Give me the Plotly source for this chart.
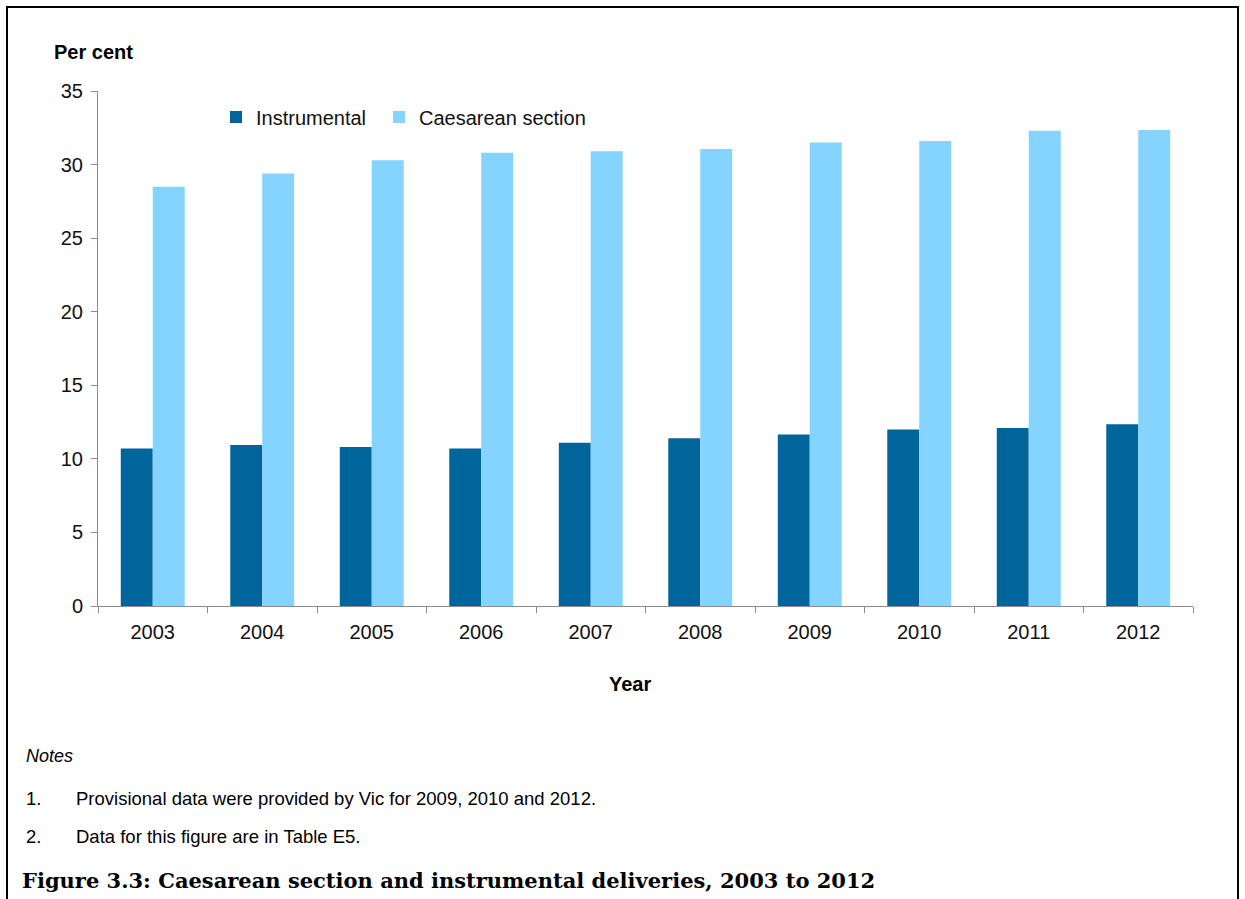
import plotly.graph_objects as go

years = ["2003", "2004", "2005", "2006", "2007", "2008", "2009", "2010", "2011", "2012"]
instrumental = [10.7, 10.95, 10.8, 10.7, 11.1, 11.4, 11.65, 12.0, 12.1, 12.35]
caesarean = [28.5, 29.4, 30.3, 30.8, 30.9, 31.05, 31.5, 31.6, 32.3, 32.35]
y_ticks = [0, 5, 10, 15, 20, 25, 30, 35]

W, H = 1245, 899
ML, MR, MT, MB = 98, 52, 91, 293
PW, PH = W - ML - MR, H - MT - MB


def px(x):
    return (x - ML) / PW


def py(y):
    return (H - MB - y) / PH


DARK = "#00659A"
LIGHT = "#85D3FF"
AXIS = "#8C8C8C"
TEXT = "#111111"
FONT = "Liberation Sans, Arial, sans-serif"

fig = go.Figure()
fig.add_trace(go.Bar(name="Instrumental", x=years, y=instrumental, legend="legend",
                     marker=dict(color=DARK, line=dict(width=0))))
fig.add_trace(go.Bar(name="Caesarean section", x=years, y=caesarean, legend="legend2",
                     marker=dict(color=LIGHT, line=dict(width=0))))

legend_common = dict(orientation="h", yanchor="middle", xanchor="left",
                     font=dict(family=FONT, size=20, color=TEXT),
                     bgcolor="rgba(0,0,0,0)", borderwidth=0)

fig.update_layout(
    width=W, height=H,
    margin=dict(l=ML, r=MR, t=MT, b=MB, pad=0),
    paper_bgcolor="white", plot_bgcolor="white",
    barmode="group", bargap=0.416, bargroupgap=0,
    font=dict(family=FONT, size=20, color=TEXT),
    showlegend=True,
    legend=dict(x=px(216), y=py(117), **legend_common),
    legend2=dict(x=px(379), y=py(117), **legend_common),
    xaxis=dict(type="category", showline=True, linecolor=AXIS, linewidth=1,
               ticks="outside", tickson="boundaries", ticklen=6, tickcolor=AXIS,
               ticklabelstandoff=8,
               tickfont=dict(family=FONT, size=20, color=TEXT),
               showgrid=False, zeroline=False, fixedrange=True),
    yaxis=dict(range=[0, 35], tickvals=y_ticks, showline=True, linecolor=AXIS, linewidth=1,
               ticks="outside", ticklen=6, tickcolor=AXIS, ticklabelstandoff=4,
               tickfont=dict(family=FONT, size=20, color=TEXT),
               showgrid=False, zeroline=False, fixedrange=True),
)

NOTE_SIZE = 18.5
annotations = [
    dict(text="<b>Per cent</b>", x=px(52), y=py(52), xanchor="left", yanchor="middle",
         font=dict(family=FONT, size=20, color="#000")),
    dict(text="<b>Year</b>", x=px(630), y=py(684), xanchor="center", yanchor="middle",
         font=dict(family=FONT, size=20, color="#000")),
    dict(text="<i>Notes</i>", x=px(24), y=py(756), xanchor="left", yanchor="middle",
         font=dict(family=FONT, size=18, color="#000")),
    dict(text="1.", x=px(24), y=py(798), xanchor="left", yanchor="middle",
         font=dict(family=FONT, size=NOTE_SIZE, color="#000")),
    dict(text="Provisional data were provided by Vic for 2009, 2010 and 2012.", x=px(74), y=py(798),
         xanchor="left", yanchor="middle", font=dict(family=FONT, size=NOTE_SIZE, color="#000")),
    dict(text="2.", x=px(24), y=py(836), xanchor="left", yanchor="middle",
         font=dict(family=FONT, size=NOTE_SIZE, color="#000")),
    dict(text="Data for this figure are in Table E5.", x=px(74), y=py(836),
         xanchor="left", yanchor="middle", font=dict(family=FONT, size=NOTE_SIZE, color="#000")),
    dict(text="<b>Figure 3.3: Caesarean section and instrumental deliveries, 2003 to 2012</b>",
         x=px(20), y=py(880), xanchor="left", yanchor="middle",
         font=dict(family="DejaVu Serif, serif", size=21, color="#000")),
]
for a in annotations:
    a.update(xref="paper", yref="paper", showarrow=False)
fig.update_layout(annotations=annotations)

# page frame: left, top and right edges
frame = dict(type="line", xref="paper", yref="paper", line=dict(color="#000", width=2))
fig.add_shape(**frame, x0=px(7), x1=px(7), y0=py(7), y1=py(905))
fig.add_shape(**frame, x0=px(6), x1=px(1239), y0=py(7), y1=py(7))
fig.add_shape(**frame, x0=px(1238), x1=px(1238), y0=py(7), y1=py(905))

fig.write_html("out.html")
